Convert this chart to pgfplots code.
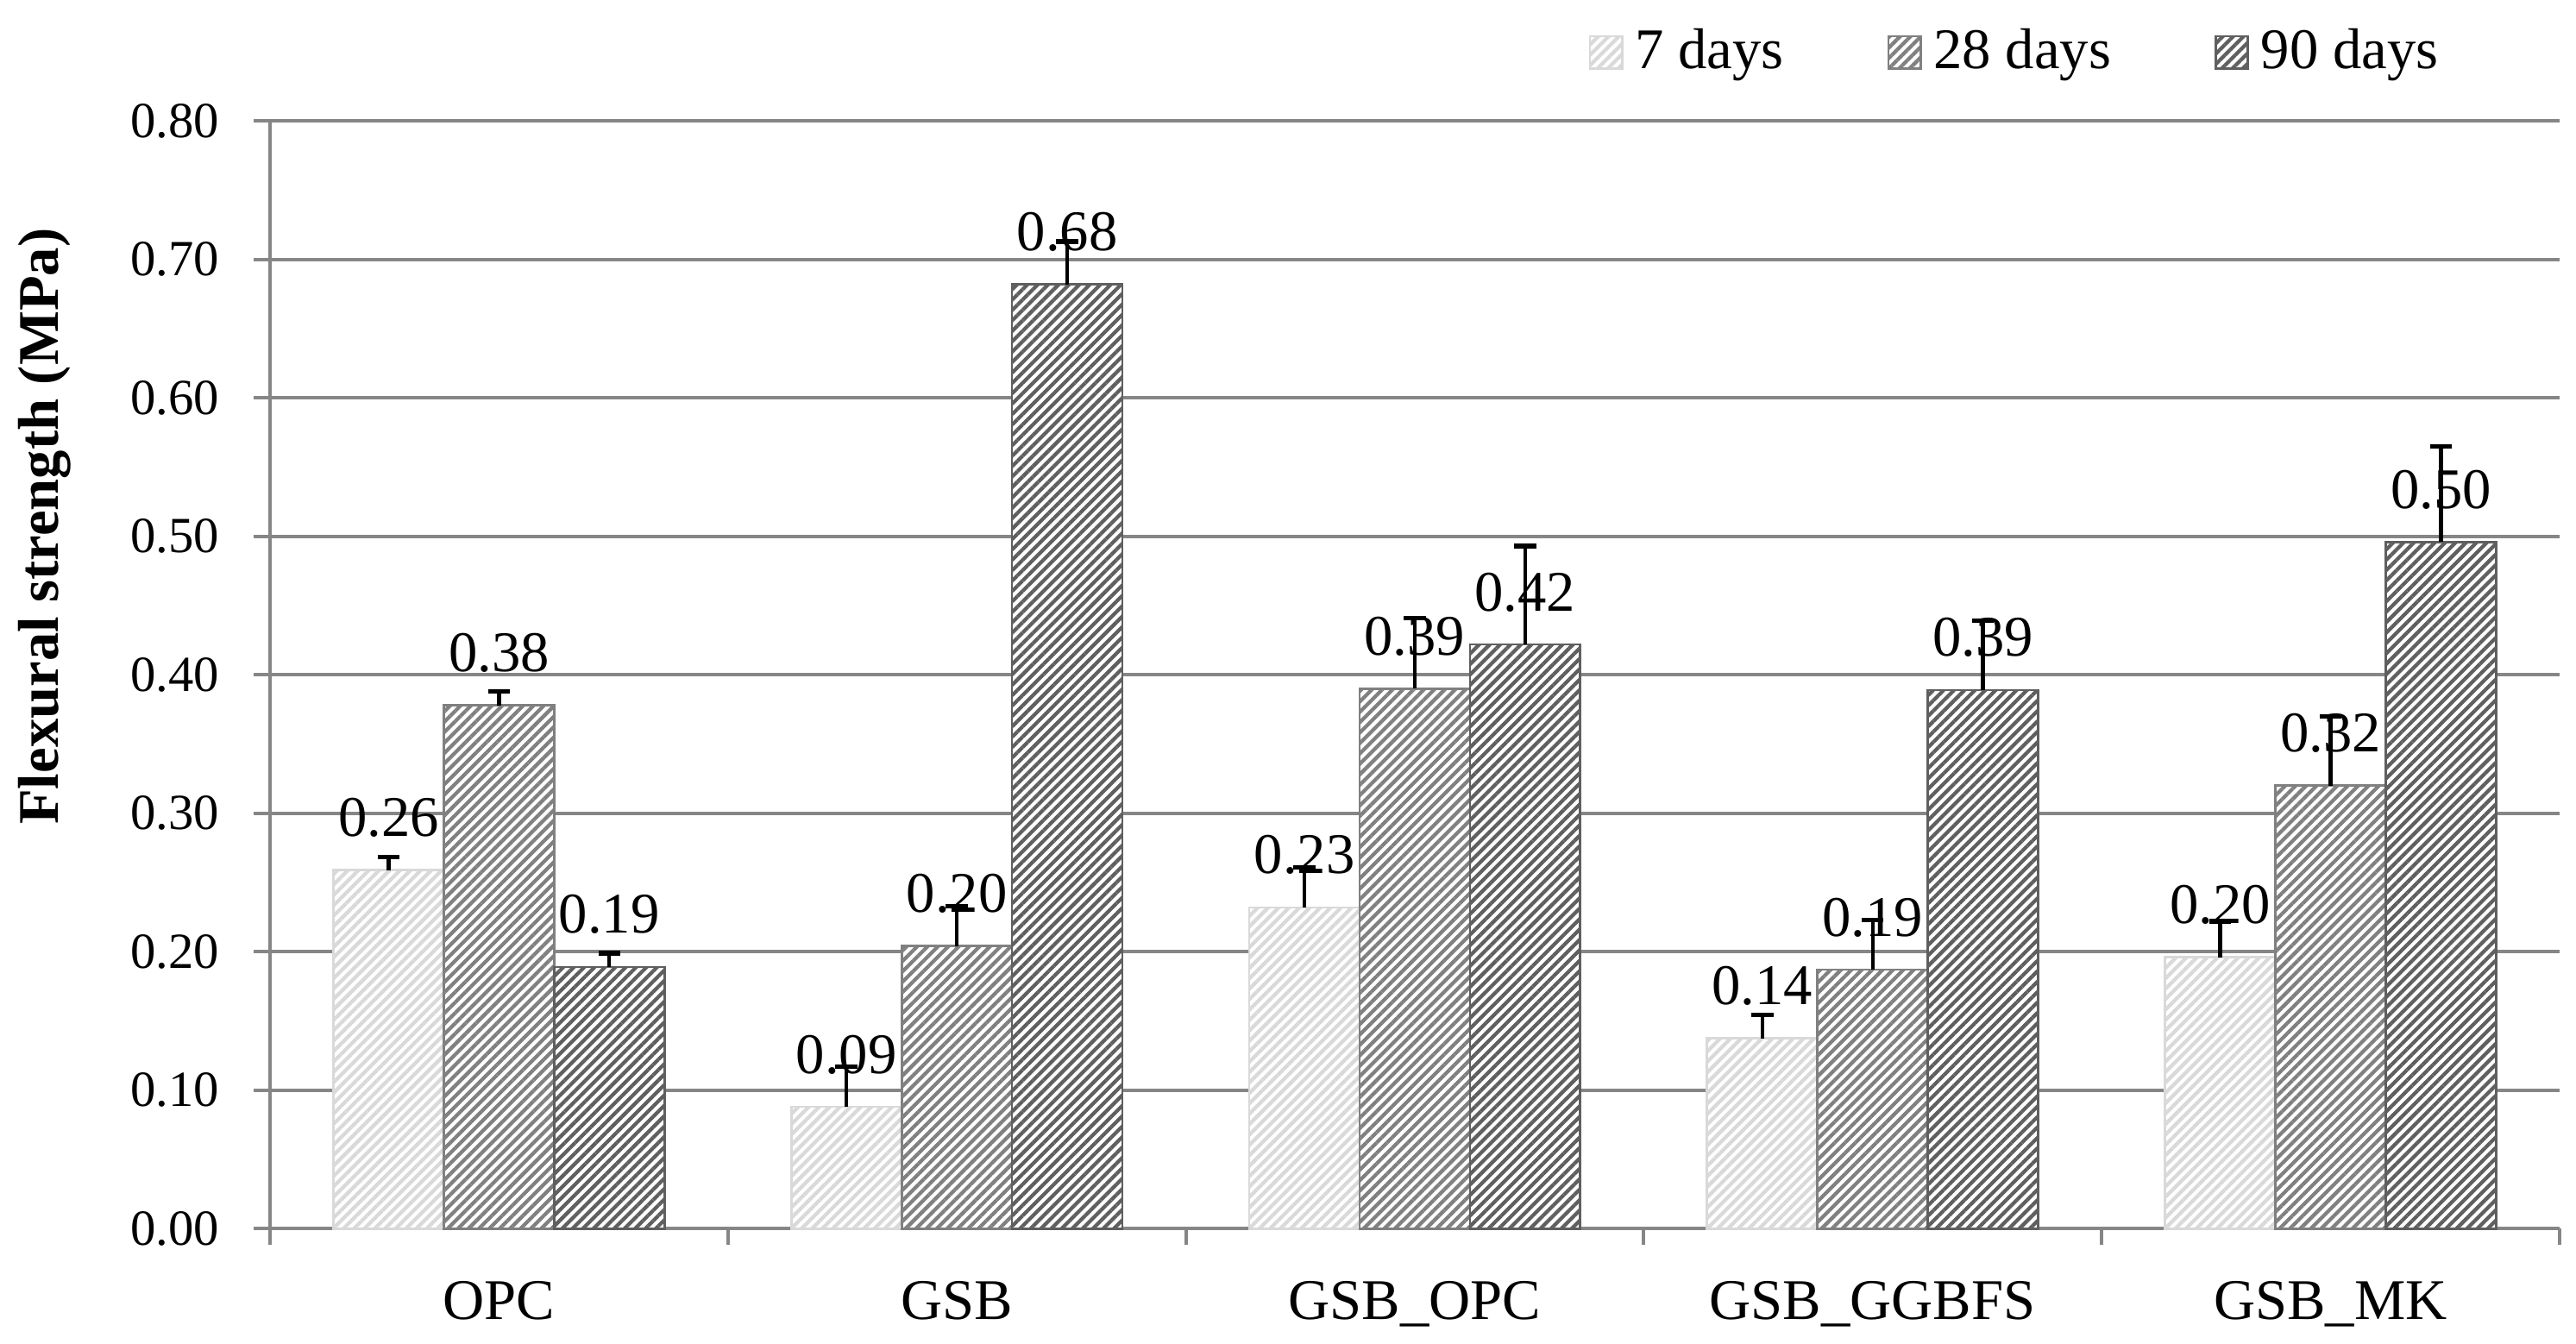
\documentclass[border=0pt]{standalone}
\usepackage{pgfplots}
\pgfplotsset{compat=1.18}
\usepackage{fontspec}
\setmainfont{Liberation Serif}
\usetikzlibrary{patterns.meta}
\definecolor{cA}{HTML}{D9D9D9}
\definecolor{cB}{HTML}{808080}
\definecolor{cC}{HTML}{5F5F5F}
\definecolor{gridc}{HTML}{868686}
\begin{document}
\begin{tikzpicture}
\begin{axis}[
  scale only axis,
  width=497.7pt, height=240.8pt,
  xmin=0.5, xmax=5.5, ymin=0, ymax=0.8,
  clip=false,
  ybar=0pt, bar width=0.241,
  axis lines*=left,
  axis line style={-, gridc, line width=0.8pt},
  ymajorgrids, grid style={gridc, line width=0.75pt},
  tick align=outside,
  major tick length=3.6pt,
  tick style={gridc, line width=0.75pt},
  xtick={0.5,1.5,2.5,3.5,4.5,5.5},
  xticklabels={},
  extra x ticks={1,2,3,4,5},
  extra x tick labels={OPC,GSB,GSB\_OPC,GSB\_GGBFS,GSB\_MK},
  extra x tick style={major tick length=0pt, tick style={draw=none},
    xticklabel style={anchor=base, inner sep=0pt, yshift=-19.8pt, font=\fontsize{12.5}{15}\selectfont}},
  ytick={0,0.1,0.2,0.3,0.4,0.5,0.6,0.7,0.8},
  yticklabel style={/pgf/number format/.cd, fixed, fixed zerofill, precision=2, /tikz/.cd,
     anchor=east, inner sep=0pt, xshift=-7.3pt, font=\fontsize{11}{13}\selectfont},
  /pgf/number format/assume math mode=true,
  ylabel={\textbf{Flexural strength (MPa)}},
  ylabel style={at={(axis description cs:-0.0983,0.634)}, anchor=center, font=\fontsize{12.5}{15}\selectfont},
  nodes near coords={\pgfmathprintnumber[fixed,fixed zerofill,precision=2,assume math mode=true]{\pgfplotspointmeta}},
  every node near coord/.append style={anchor=base, inner sep=0pt, yshift=7.3pt, black, font=\fontsize{12.5}{15}\selectfont},
  legend columns=3,
  legend style={at={(axis description cs:0.576,1.0619)}, anchor=west, draw=none, fill=none,
    inner sep=0pt, outer sep=0pt, column sep=1.6pt,
    /tikz/every even column/.append style={column sep=21.5pt},
    nodes={inner sep=1pt}, font=\fontsize{12.5}{15}\selectfont},
  legend image code/.code={\draw[#1] (0pt,-3.5pt) rectangle (7pt,3.5pt);},
  error bars/y dir=plus, error bars/y explicit,
  error bars/error bar style={black, line width=0.8pt},
  error bars/error mark options={rotate=90, mark size=2.4pt, line width=1pt, black},
]
\addplot[fill=white, draw=cA, line width=0.5pt,
  postaction={pattern={Lines[angle=45,distance=1.6pt,line width=0.8pt]}, pattern color=cA}]
  coordinates {(1,0.259) +- (0,0.0095) (2,0.088) +- (0,0.029) (3,0.232) +- (0,0.029) (4,0.1375) +- (0,0.017) (5,0.196) +- (0,0.026)};
\addplot[fill=white, draw=cB, line width=0.5pt,
  postaction={pattern={Lines[angle=45,distance=1.6pt,line width=0.8pt]}, pattern color=cB}]
  coordinates {(1,0.378) +- (0,0.010) (2,0.204) +- (0,0.029) (3,0.390) +- (0,0.051) (4,0.187) +- (0,0.036) (5,0.320) +- (0,0.050)};
\addplot[fill=white, draw=cC, line width=0.5pt,
  postaction={pattern={Lines[angle=45,distance=1.6pt,line width=0.8pt]}, pattern color=cC}]
  coordinates {(1,0.189) +- (0,0.010) (2,0.682) +- (0,0.031) (3,0.422) +- (0,0.071) (4,0.389) +- (0,0.050) (5,0.496) +- (0,0.069)};
\legend{7 days,28 days,90 days}
\end{axis}
\pgfresetboundingbox
\path ([xshift=-58.7pt,yshift=-24.9pt]current axis.south west) rectangle ([xshift=3.6pt,yshift=26.3pt]current axis.north east);
\end{tikzpicture}
\end{document}
